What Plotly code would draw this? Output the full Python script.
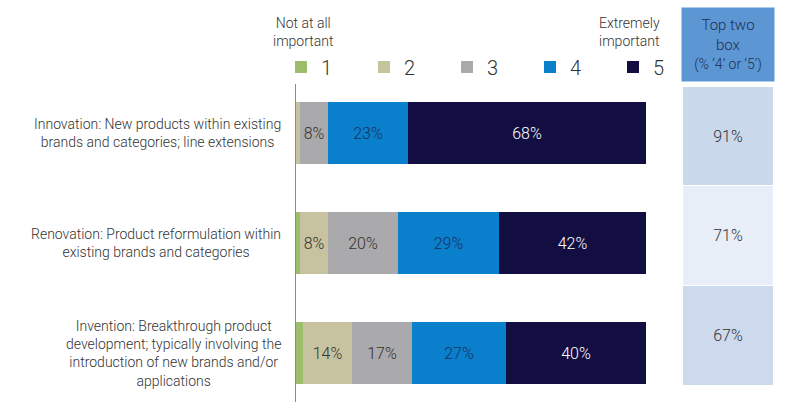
import plotly.graph_objects as go

categories = [
    "Innovation: New products within existing<br>brands and categories; line extensions",
    "Renovation: Product reformulation within<br>existing brands and categories",
    "Invention: Breakthrough product<br>development; typically involving the<br>introduction of new brands and/or<br>applications",
]
cat_keys = ["Innovation", "Renovation", "Invention"]
scale_labels = ["1", "2", "3", "4", "5"]
score_1 = [0, 1, 2]
score_2 = [1, 8, 14]
score_3 = [8, 20, 17]
score_4 = [23, 29, 27]
score_5 = [68, 42, 40]
top_two_box = [91, 71, 67]

series = [score_1, score_2, score_3, score_4, score_5]
colors = ["#9cbd6b", "#c7c3a0", "#aaa9ab", "#0a80cc", "#120e42"]
text_colors = ["#333333", "#333333", "#333333", "#1b2f63", "#ffffff"]
row_colors = ["#c9d8eb", "#e7eef8", "#cddaee"]

W, H = 796, 402
FONT = "Roboto"

fig = go.Figure()
for name, vals, col, tcol in zip(scale_labels, series, colors, text_colors):
    fig.add_trace(go.Bar(
        name=name, y=cat_keys, x=vals, orientation="h",
        marker=dict(color=col, line=dict(width=0)),
        width=0.564,
        text=[f"{v}%" if v >= 5 else "" for v in vals],
        textposition="inside", insidetextanchor="middle", textangle=0,
        textfont=dict(color=tcol, size=18, family=FONT, weight=300),
        hoverinfo="skip",
    ))

# Top two box column
fig.add_trace(go.Bar(
    y=cat_keys, x=[1, 1, 1], orientation="h", xaxis="x2", yaxis="y2",
    marker=dict(color=row_colors, line=dict(width=0)), width=0.99,
    text=[f"{v}%" for v in top_two_box], textposition="inside",
    insidetextanchor="middle", textangle=0,
    textfont=dict(color="#333333", size=16, family=FONT, weight=300),
    showlegend=False, hoverinfo="skip",
))

def px_x(p):
    return p / W

def px_y(p):
    return 1 - p / H

top_px = 84
i_top = (top_px - 133) / 110
i_bot = (H - 133) / 110

fig.update_layout(
    width=W, height=H, margin=dict(l=0, r=0, t=0, b=0),
    paper_bgcolor="white", plot_bgcolor="white",
    barmode="stack", bargap=0,
    font=dict(family=FONT, color="#333333"),
    uniformtext=dict(minsize=16, mode="show"),
    xaxis=dict(domain=[px_x(296), px_x(646)], range=[0, 100], visible=False, fixedrange=True),
    yaxis=dict(domain=[0, px_y(top_px)], range=[i_bot, i_top], showticklabels=False,
               showline=True, linecolor="#8a8a8a", linewidth=1, ticks="",
               showgrid=False, zeroline=False, categoryorder="array", categoryarray=cat_keys),
    xaxis2=dict(domain=[px_x(683), px_x(773)], range=[0, 1], visible=False, anchor="y2"),
    yaxis2=dict(domain=[px_y(385), px_y(86)], range=[2.5, -0.5], visible=False,
                anchor="x2", categoryorder="array", categoryarray=cat_keys),
    legend=dict(orientation="h", x=px_x(281), xanchor="left", y=px_y(67), yanchor="middle",
                entrywidth=38, entrywidthmode="pixels", itemwidth=30,
                font=dict(size=20, color="#333333", family=FONT, weight=300),
                bgcolor="rgba(0,0,0,0)", tracegroupgap=0, traceorder="normal"),
    showlegend=True,
)

ann = []
for key, label in zip(cat_keys, categories):
    ann.append(dict(x=px_x(283), xref="paper", y=key, yref="y", xanchor="right", yanchor="middle",
                    text=label, align="center", showarrow=False,
                    font=dict(size=14, color="#333333", family=FONT, weight=300)))
ann.append(dict(x=px_x(303), xref="paper", y=px_y(31.5), yref="paper", text="Not at all<br>important",
                showarrow=False, align="center", xanchor="center", yanchor="middle",
                font=dict(size=14, color="#333333", family=FONT, weight=300)))
ann.append(dict(x=px_x(629), xref="paper", y=px_y(31.5), yref="paper", text="Extremely<br>important",
                showarrow=False, align="center", xanchor="center", yanchor="middle",
                font=dict(size=14, color="#333333", family=FONT, weight=300)))
ann.append(dict(x=px_x(728), xref="paper", y=px_y(45), yref="paper",
                text="Top two<br>box<br><span style=\"font-size:14px\">(% ‘4’ or ‘5’)</span>",
                showarrow=False, align="center", xanchor="center", yanchor="middle",
                width=90, height=71, bgcolor="#5d97d3",
                font=dict(size=15, color="#1e2f55", family=FONT, weight=300)))
fig.update_layout(annotations=ann)

fig.write_html("out.html")
